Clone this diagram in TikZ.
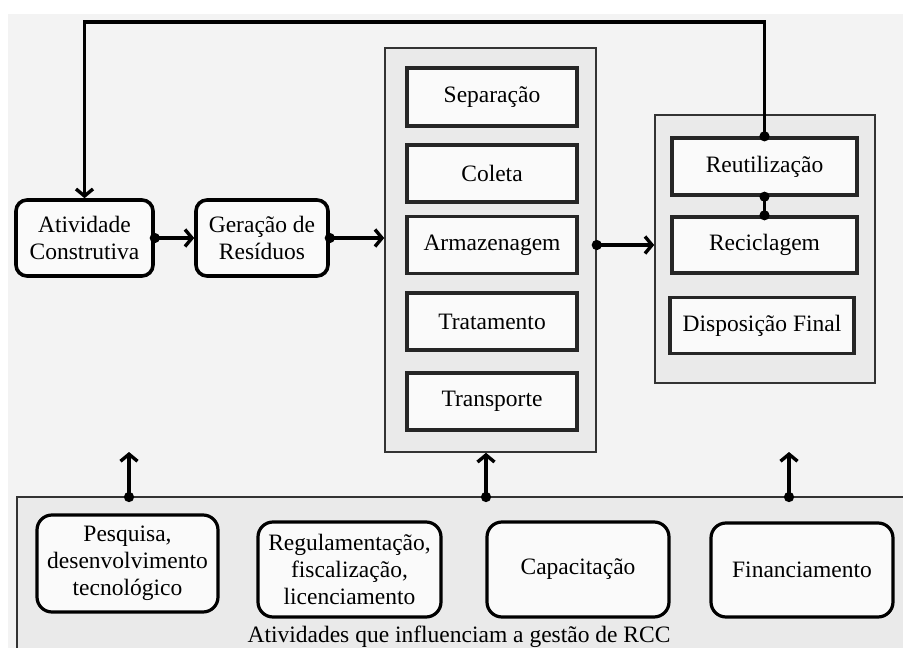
\documentclass[tikz,border=0pt]{standalone}
\usepackage{fontspec}
\setmainfont{Liberation Serif}
\usetikzlibrary{arrows.meta}
\definecolor{bg}{HTML}{F3F3F3}
\definecolor{cont}{HTML}{EAEAEA}
\definecolor{boxfill}{HTML}{FAFAFA}
\tikzset{
  rbox/.style={draw=black, line width=3.6pt, rounded corners=11pt, fill=boxfill, align=center, inner sep=2pt},
  sbox/.style={draw=black!85, line width=3.4pt, fill=boxfill, align=center, inner sep=2pt},
  contbox/.style={draw=black!80, line width=1.6pt, fill=cont, inner sep=0pt},
  botbox/.style={draw=black, line width=3.2pt, rounded corners=15pt, fill=boxfill, align=center, inner sep=2pt},
  flow/.style={line width=3.4pt, {Circle[length=10pt]}-{Straight Barb[length=7pt,width=17pt]}, shorten <=-5pt},
  dotdot/.style={line width=2.6pt, {Circle[length=10pt]}-{Circle[length=10pt]}, shorten <=-5pt, shorten >=-5pt},
  txt/.style={font=\fontsize{23.5}{27}\selectfont}
}
\begin{document}
\begin{tikzpicture}[x=1pt,y=-1pt]
\useasboundingbox (0,0) rectangle (903,648);
\clip (0,0) rectangle (903,648);
\fill[bg] (8,14) rectangle (903,648);
\begin{scope}[txt]
% containers
\node[contbox, minimum width=211pt, minimum height=404pt] (mid) at (490.5,250) {};
\node[contbox, minimum width=220pt, minimum height=268pt] (right) at (765,249) {};
\node[contbox, minimum width=893pt, minimum height=170pt] (bottom) at (463.5,582) {};
% left process
\node[rbox, minimum width=137pt, minimum height=76pt] (ativ) at (84.5,238) {Atividade\\Construtiva};
\node[rbox, minimum width=132pt, minimum height=76pt] (ger) at (262,238) {Geração de\\Resíduos};
% middle steps
\node[sbox, minimum width=170pt, minimum height=58pt] (sep) at (492,97) {Separação};
\node[sbox, minimum width=170pt, minimum height=57pt] (col) at (492,173.5) {Coleta};
\node[sbox, minimum width=170pt, minimum height=57pt] (arm) at (492,245) {Armazenagem};
\node[sbox, minimum width=170pt, minimum height=57pt] (tra) at (492,321.5) {Tratamento};
\node[sbox, minimum width=170pt, minimum height=57pt] (trn) at (492,401.5) {Transporte};
% right steps
\node[sbox, minimum width=185pt, minimum height=57pt] (reut) at (764.5,166.5) {Reutilização};
\node[sbox, minimum width=185pt, minimum height=56pt] (reci) at (764.5,245) {Reciclagem};
\node[sbox, minimum width=184pt, minimum height=56pt] (disp) at (762,325.5) {Disposição Final};
% bottom activities
\node[botbox, minimum width=181pt, minimum height=97pt] (pes) at (127.5,563.5) {Pesquisa,\\desenvolvimento\\tecnológico};
\node[botbox, minimum width=183pt, minimum height=95pt] (reg) at (349.5,569.5) {Regulamentação,\\fiscalização,\\licenciamento};
\node[botbox, minimum width=182pt, minimum height=95pt] (cap) at (578,569.5) {Capacitação};
\node[botbox, minimum width=182pt, minimum height=94pt] (fin) at (802,570) {Financiamento};
\node[anchor=base] (capt) at (459,642) {Atividades que influenciam a gestão de RCC};
\end{scope}
% connectors
\coordinate (topline) at (0,22);
\coordinate (u1) at (129,497);
\coordinate (t1) at (129,452);
\coordinate (u2) at (486,497);
\coordinate (u3) at (789,497);
\coordinate (t3) at (789,452);
\draw[flow] (ativ.east) -- (ger.west);
\draw[flow] (ger.east) -- (ger.east -| mid.west);
\draw[flow] (arm -| mid.east) -- (arm -| right.west);
\draw[dotdot] (reut.south) -- (reci.north);
\draw[flow, line join=miter]
  (reut.north) -- (reut.north |- topline) -- (ativ.north |- topline) -- (ativ.north);
\draw[flow] (u1) -- (t1);
\draw[flow] (u2) -- (u2 |- mid.south);
\draw[flow] (u3) -- (t3);
\end{tikzpicture}
\end{document}
